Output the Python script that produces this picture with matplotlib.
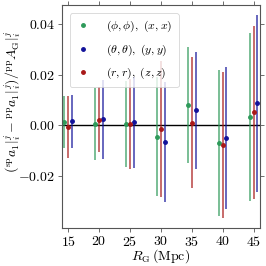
import matplotlib
matplotlib.use("Agg")
import matplotlib.pyplot as plt
from matplotlib.lines import Line2D
import numpy as np

plt.rcParams['mathtext.fontset'] = 'cm'
plt.rcParams['font.family'] = 'serif'
plt.rcParams['font.serif'] = ['cmr10', 'DejaVu Serif']
plt.rcParams['axes.formatter.use_mathtext'] = True

R_G = [15, 20, 25, 30, 35, 40, 45]

green_val = [0.0012, 0.0005, 0.0006, -0.0044, 0.0080, -0.0068, 0.0032]
green_err = [0.0103, 0.0142, 0.0169, 0.0234, 0.0230, 0.0288, 0.0331]
red_val = [-0.0007, 0.0022, 0.0006, -0.0014, 0.0011, -0.0079, 0.0051]
red_err = [0.0121, 0.0129, 0.0178, 0.0268, 0.0257, 0.0288, 0.0343]
blue_val = [0.0016, 0.0024, 0.0012, -0.0065, 0.0060, -0.0049, 0.0087]
blue_err = [0.0104, 0.0155, 0.0180, 0.0236, 0.0231, 0.0280, 0.0349]

labels = [r'$(\phi,\phi),\ (x,x)$', r'$(\theta,\theta),\ (y,y)$', r'$(r,r),\ (z,z)$']
colors = ['#2e9a5a', '#12129a', '#a81818']
offsets = [-0.6, 0.6, 0.0]

fig = plt.figure(figsize=(2.66, 2.66), dpi=100)
ax = fig.add_axes([0.233, 0.143, 0.744, 0.838])

x = np.array(R_G, dtype=float)
handles = []
for vals, errs, lab, c, off in zip([green_val, blue_val, red_val],
                                    [green_err, blue_err, red_err],
                                    labels, colors, offsets):
    eb = ax.errorbar(x + off, vals, yerr=errs, fmt='o', color=c, ms=2.5,
                     elinewidth=1.2, capsize=0)
    eb[2][0].set_alpha(0.75)
    handles.append(Line2D([], [], ls='none', marker='o', ms=2.5, color=c, label=lab))

ax.axhline(0, color='black', lw=1.0, zorder=0)
ax.set_xlim(14, 46)
ax.set_ylim(-0.0405, 0.0475)
ax.set_xticks(R_G)
ax.set_yticks([-0.02, 0.0, 0.02, 0.04])
ax.set_yticklabels([r'$-0.02$', r'$0.00$', r'$0.02$', r'$0.04$'])
ax.set_xticklabels([r'$%d$' % v for v in R_G])
ax.tick_params(labelsize=10, top=True, right=True, length=3, width=0.6,
               color='#555555', pad=2)
for s in ax.spines.values():
    s.set_color('#555555')
    s.set_linewidth(0.8)

ax.set_xlabel(r'$R_{\rm G}\,({\rm Mpc})$', fontsize=10)
ax.xaxis.set_label_coords(0.5, -0.087)
ax.set_ylabel(r'$({}^{\rm sp}a_1|_i^j - {}^{\rm pp}a_1|_i^j)/{}^{\rm pp}A_{\rm G}|_i^j$',
              fontsize=10)
ax.yaxis.set_label_coords(-0.2, 0.565)
leg = ax.legend(handles=handles, loc='upper left', fontsize=8.5, handlelength=1.2,
                borderpad=0.5, labelspacing=0.7, handletextpad=1.4,
                bbox_to_anchor=(0.01, 0.99))
leg.get_frame().set_linewidth(0.6)

fig.savefig('out.png', dpi=100)
